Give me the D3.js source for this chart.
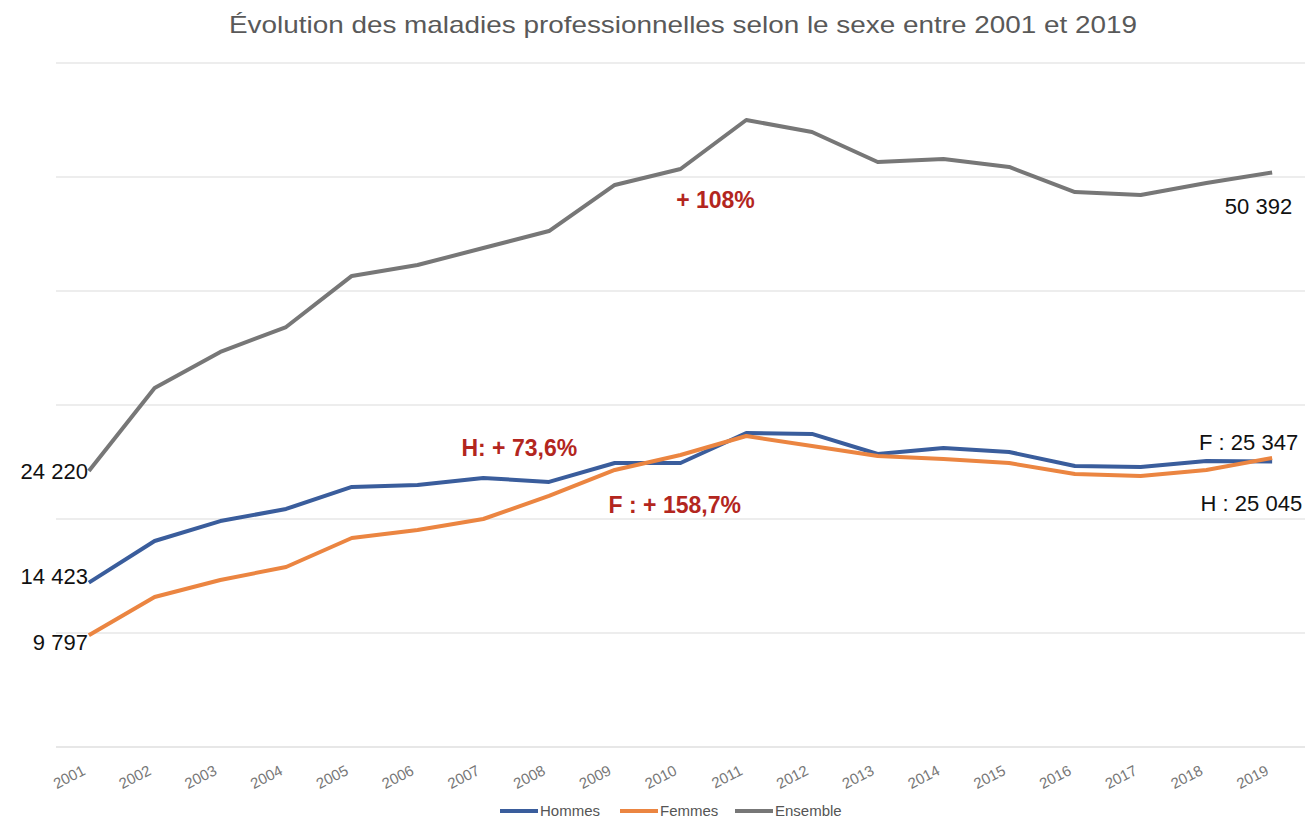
<!DOCTYPE html>
<html>
<head>
<meta charset="utf-8">
<script src="https://cdn.jsdelivr.net/npm/d3@7"></script>
<style>
  body { margin: 0; background: #fff; }
  svg { font-family: "Liberation Sans", Arial, sans-serif; }
</style>
</head>
<body>
<svg id="chart" width="1312" height="820"></svg>
<script>
var years = ["2001","2002","2003","2004","2005","2006","2007","2008","2009","2010",
             "2011","2012","2013","2014","2015","2016","2017","2018","2019"];

var hommes = [14423, 18070, 19820, 20880, 22810, 22980, 23600, 23250, 24910, 24910,
              27540, 27460, 25700, 26230, 25880, 24650, 24560, 25090, 25045];
var femmes = [9797, 13160, 14650, 15790, 18330, 19040, 20000, 22020, 24300, 25610,
              27280, 26400, 25530, 25260, 24910, 23950, 23770, 24300, 25347];
var ensemble = [24220, 31490, 34650, 36840, 41320, 42280, 43770, 45260, 49300, 50700,
                55000, 53950, 51320, 51580, 50880, 48680, 48420, 49470, 50392];

var yTicks = [0, 10000, 20000, 30000, 40000, 50000, 60000];

var series = [
    { id: "Hommes", values: hommes, color: "#3a5d9c" },
    { id: "Femmes", values: femmes, color: "#eb8541" },
    { id: "Ensemble", values: ensemble, color: "#777777" }
];

var svg = d3.select("#chart");

var margin = { top: 63, right: 7, bottom: 73, left: 56 },
    width = 1312 - margin.left - margin.right,
    height = 820 - margin.top - margin.bottom;

var x = d3.scalePoint().domain(years).range([0, width]).padding(0.5);
var y = d3.scaleLinear().domain([0, 60000]).range([height, 0]);

var g = svg.append("g")
    .attr("transform", "translate(" + margin.left + "," + margin.top + ")");

// title
svg.append("text")
    .attr("x", 683)
    .attr("y", 33)
    .attr("text-anchor", "middle")
    .attr("fill", "#595959")
    .attr("textLength", 908)
    .attr("lengthAdjust", "spacingAndGlyphs")
    .style("font-size", "24px")
    .text("Évolution des maladies professionnelles selon le sexe entre 2001 et 2019");

// gridlines
g.append("g")
    .selectAll("line")
    .data(yTicks)
    .enter()
    .append("line")
    .attr("x1", 0)
    .attr("x2", width)
    .attr("y1", function(d) { return y(d); })
    .attr("y2", function(d) { return y(d); })
    .attr("stroke", function(d) { return d === 0 ? "#d0d0d0" : "#dcdcdc"; })
    .attr("stroke-width", 1.2);

// x axis labels
var xAxis = g.append("g")
    .attr("transform", "translate(0," + height + ")")
    .call(d3.axisBottom(x).tickSize(0).tickPadding(0));
xAxis.select(".domain").remove();
xAxis.selectAll("text")
    .attr("fill", "#777")
    .style("font-size", "15px")
    .attr("text-anchor", "end")
    .attr("dy", null)
    .attr("y", 0)
    .attr("transform", "translate(-3,27) rotate(-27)");

var line = d3.line()
    .x(function(d, i) { return x(years[i]); })
    .y(function(d) { return y(d); });

g.selectAll(".serie")
    .data(series)
    .enter()
    .append("path")
    .attr("class", "serie")
    .attr("fill", "none")
    .attr("stroke", function(d) { return d.color; })
    .attr("stroke-width", 4)
    .attr("stroke-linejoin", "round")
    .attr("d", function(d) { return line(d.values); });

// value labels
var fmt = function(v) { return d3.format(",")(v).replace(",", " "); };
var last = years.length - 1;

var valueLabels = [
    { text: fmt(ensemble[0]), x: x(years[0]) - 1, y: y(ensemble[0]) + 8, anchor: "end" },
    { text: fmt(hommes[0]), x: x(years[0]) - 1, y: y(hommes[0]) + 1, anchor: "end" },
    { text: fmt(femmes[0]), x: x(years[0]) - 1, y: y(femmes[0]) + 15, anchor: "end" },
    { text: fmt(ensemble[last]), x: x(years[last]) + 20, y: y(ensemble[last]) + 41, anchor: "end" },
    { text: "F : " + fmt(femmes[last]), x: x(years[last]) + 26, y: y(femmes[last]) - 8, anchor: "end" },
    { text: "H : " + fmt(hommes[last]), x: x(years[last]) + 30, y: y(hommes[last]) + 50, anchor: "end" }
];

g.selectAll(".vlabel")
    .data(valueLabels)
    .enter()
    .append("text")
    .attr("class", "vlabel")
    .attr("x", function(d) { return d.x; })
    .attr("y", function(d) { return d.y; })
    .attr("text-anchor", function(d) { return d.anchor; })
    .attr("fill", "#111")
    .style("font-size", "22px")
    .text(function(d) { return d.text; });

// growth annotations
var growth = [
    { text: "+ 108%", x: x("2010") + 35, y: y(ensemble[9]) + 39 },
    { text: "H: + 73,6%", x: x("2007") + 36, y: y(hommes[6]) - 22 },
    { text: "F : + 158,7%", x: x("2009") + 60, y: y(femmes[8]) + 43 }
];

g.selectAll(".growth")
    .data(growth)
    .enter()
    .append("text")
    .attr("class", "growth")
    .attr("x", function(d) { return d.x; })
    .attr("y", function(d) { return d.y; })
    .attr("text-anchor", "middle")
    .attr("fill", "#b3261e")
    .style("font-size", "23px")
    .style("font-weight", "bold")
    .text(function(d) { return d.text; });

// legend
var legendX = [500, 620, 735];
var legend = svg.append("g").selectAll("g")
    .data(series)
    .enter()
    .append("g")
    .attr("transform", function(d, i) { return "translate(" + legendX[i] + ",811)"; });

legend.append("line")
    .attr("x1", 0).attr("x2", 38)
    .attr("stroke", function(d) { return d.color; })
    .attr("stroke-width", 4);

legend.append("text")
    .attr("x", 40)
    .attr("y", 5)
    .attr("fill", "#555")
    .style("font-size", "15px")
    .text(function(d) { return d.id; });
</script>
</body>
</html>
